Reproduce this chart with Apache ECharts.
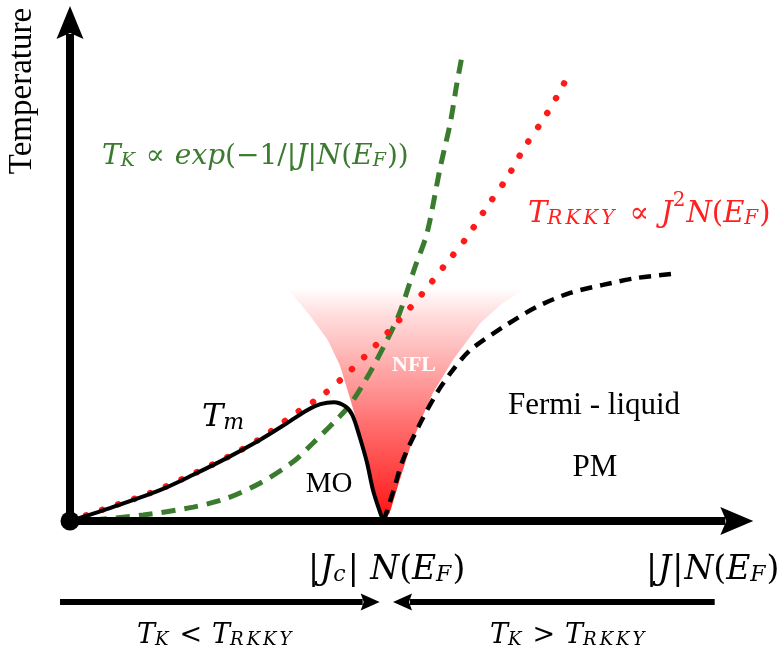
<!DOCTYPE html>
<html><head><meta charset="utf-8">
<script src="https://cdn.jsdelivr.net/npm/echarts@6/dist/echarts.min.js"></script>
<style>html,body{margin:0;padding:0;background:#fff}#c{width:782px;height:655px}</style>
</head><body><div id="c"></div>
<script>
// ---- data (x: |J|N(E_F) arbitrary units 0..100, y: temperature arbitrary units 0..100) ----
const tKondo = [[0,0],[3.5,0.2],[11.0,1.2],[18.5,2.8],[23.6,4.6],[28.5,7.6],[33.5,11.9],[36.5,15.7],[39.5,19.7],[42.0,23.3],[45.0,29.8],[47.6,36.4],[49.5,41.9],[51.8,51.1],[53.6,57.9],[55.6,71.2],[57.1,80.1],[58.1,88.1],[58.9,93.8]];
const tRKKY = [[0,0],[6.0,2.8],[12.0,5.6],[17.6,8.9],[24.0,13.1],[28.5,16.5],[33.5,21.3],[38.0,25.4],[41.5,29.5],[45.8,35.2],[49.4,40.4],[53.0,45.9],[56.3,51.5],[59.6,57.1],[62.6,63.2],[65.6,69.0],[68.3,75.3],[71.3,81.3],[73.9,87.3],[75.1,90.7]];
const tMagnetic = [[0,0],[6.0,2.6],[13.5,6.2],[18.5,9.3],[23.6,12.7],[28.5,16.3],[32.6,19.7],[35.6,22.3],[37.6,23.5],[39.6,23.9],[41.3,23.1],[42.4,21.3],[43.5,16.9],[44.6,11.7],[45.5,6.2],[46.6,1.6],[47.1,0]];
const tFermiLiquid = [[47.1,0],[48.5,5.8],[50.0,12.3],[52.6,19.7],[55.1,25.8],[57.5,30.4],[60.1,34.4],[65.0,39.0],[70.1,43.1],[75.1,45.9],[80.0,47.5],[85.1,48.9],[90.4,49.7]];
const nflBoundary = [[32.6,46.9],[36.0,41.4],[38.7,36.4],[40.5,31.4],[42.0,24.9],[43.2,19.3],[44.4,12.9],[45.6,6.8],[47.1,0],[48.0,1.6],[49.5,8.2],[51.1,14.9],[52.7,20.3],[54.5,25.8],[57.5,32.4],[61.6,39.8],[65.0,43.9],[68.6,46.9]];
const origin = [[0,0]];
const xAxisArrow = [[0, 0, 102.6, 0]];
const yAxisArrow = [[0, 0, 0, 103.6]];
const regimeArrows = [[-1.5, -16.3, 46.5, -16.3], [96.8, -16.3, 48.5, -16.3]];
const texts = {
  yName: 'Temperature',
  kondo: '{i|T}{s|K}{r|∝}{i|exp}{n|(−1/|}{i|J}{n||}{i|N}{n|(}{i|E}{s|F}{n|))}',
  rkky: '{i|T}{k|R}{k|K}{k|K}{k|Y}{r|∝}{i|J}{p|2}{i|N}{n|(}{i|E}{s|F}{n|)}',
  tm: '{i|T}{s|m}',
  mo: 'MO', nfl: 'NFL', fl: 'Fermi - liquid', pm: 'PM',
  jc: '{b||}{i|J}{s|c}{b||}{n| }{i|N}{n|(}{i|E}{s|F}{n|)}',
  jx: '{b||}{i|J}{b||}{i|N}{n|(}{i|E}{s|F}{n|)}',
  less: '{i|T}{s|K}{r|<}{i|T}{k|R}{k|K}{k|K}{k|Y}',
  more: '{i|T}{s|K}{r|>}{i|T}{k|R}{k|K}{k|K}{k|Y}'
};

const SERIF = '"Liberation Serif", "DejaVu Serif", serif';
const MATH = '"DejaVu Serif", serif';
function mathRich(S, color, relPad) {
  const s = Math.round(S * 0.68), L = Math.round(S * 1.43);
  const base = {fontFamily: MATH, fill: color, verticalAlign: 'bottom'};
  return {
    i: Object.assign({}, base, {fontStyle: 'italic', fontSize: S, lineHeight: L}),
    n: Object.assign({}, base, {fontSize: S, lineHeight: L}),
    b: Object.assign({}, base, {fontSize: S, lineHeight: L, padding: [0, 1, 0, 1]}),
    r: Object.assign({}, base, {fontSize: S, lineHeight: L, padding: [0, relPad, 0, relPad]}),
    s: Object.assign({}, base, {fontStyle: 'italic', fontSize: s, lineHeight: s, padding: [0, 1, 0, 0]}),
    k: Object.assign({}, base, {fontStyle: 'italic', fontSize: s, lineHeight: s, padding: [0, 3, 0, 0]}),
    p: Object.assign({}, base, {fontSize: s, lineHeight: s, verticalAlign: 'top', padding: [Math.round(S * 0.12), 1, 0, 0]})
  };
}
function mathText(x, y, txt, S, color, relPad) {
  return {type: 'text', x: x, y: y, z: 100, silent: true,
    style: {text: txt, rich: mathRich(S, color, relPad || 0), align: 'left', verticalAlign: 'middle'}};
}
function plainText(x, y, txt, S, color, weight) {
  return {type: 'text', x: x, y: y, z: 100, silent: true,
    style: {text: txt, fontFamily: SERIF, fontSize: S, fontWeight: weight || 'normal', fill: color, align: 'center', verticalAlign: 'middle'}};
}
// arrow drawn through the cartesian scale: [x1, y1, x2(tip), y2(tip)]
function arrowSeries(name, data, width, headLen, headWidth, notch) {
  return {type: 'custom', name: name, z: 8, silent: true, clip: false, data: data,
    encode: {x: [0, 2], y: [1, 3]},
    renderItem: function (params, api) {
      const p1 = api.coord([api.value(0), api.value(1)]);
      const p2 = api.coord([api.value(2), api.value(3)]);
      const dx = p2[0] - p1[0], dy = p2[1] - p1[1];
      const len = Math.sqrt(dx * dx + dy * dy);
      const ux = dx / len, uy = dy / len, px = -uy, py = ux;
      const bx = p2[0] - ux * headLen, by = p2[1] - uy * headLen;
      const nx = p2[0] - ux * (headLen - notch), ny = p2[1] - uy * (headLen - notch);
      const hw = headWidth / 2;
      return {type: 'group', children: [
        {type: 'line', shape: {x1: p1[0], y1: p1[1], x2: nx - ux * 1, y2: ny - uy * 1},
          style: {stroke: '#000', lineWidth: width, lineCap: 'butt'}},
        {type: 'polygon', shape: {points: [[p2[0], p2[1]], [bx + px * hw, by + py * hw], [nx, ny], [bx - px * hw, by - py * hw]]},
          style: {fill: '#000'}}
      ]};
    }};
}

const GREEN = '#3b7b2f', RED = '#ff1a1a';
const chart = echarts.init(document.getElementById('c'));
chart.setOption({
  animation: false,
  backgroundColor: '#fff',
  grid: {left: 70, right: 46, top: 24, bottom: 134, containLabel: false},
  xAxis: {type: 'value', min: 0, max: 100,
    axisLine: {show: false}, axisTick: {show: false}, axisLabel: {show: false}, splitLine: {show: false}},
  yAxis: {type: 'value', min: 0, max: 100,
    axisLine: {show: false}, axisTick: {show: false}, axisLabel: {show: false}, splitLine: {show: false}},
  series: [
    {type: 'custom', name: 'NFL', z: 1, silent: true, data: nflBoundary,
      renderItem: function (params, api) {
        if (params.dataIndex !== 0) return null;
        const pts = nflBoundary.map(function (p) { return api.coord(p); });
        return {type: 'polygon', shape: {points: pts},
          style: {fill: new echarts.graphic.LinearGradient(0, 0, 0, 1, [
            {offset: 0, color: 'rgba(255,70,70,0)'},
            {offset: 0.12, color: 'rgba(255,80,80,0.2)'},
            {offset: 0.35, color: 'rgba(255,70,70,0.48)'},
            {offset: 0.6, color: 'rgba(255,50,50,0.72)'},
            {offset: 0.85, color: 'rgba(255,30,30,0.9)'},
            {offset: 1, color: 'rgba(255,15,15,1)'}
          ])}};
      }},
    {type: 'line', name: 'T_K', z: 3, data: tKondo, showSymbol: false, smooth: 0.3, silent: true,
      lineStyle: {color: GREEN, width: 5, type: [14, 9]}},
    {type: 'line', name: 'T_RKKY', z: 4, data: tRKKY, showSymbol: false, smooth: 0.3, silent: true,
      lineStyle: {color: RED, width: 6.5, type: [0.01, 17], cap: 'round'}},
    {type: 'line', name: 'T_m', z: 5, data: tMagnetic, showSymbol: false, smooth: 0.3, silent: true,
      lineStyle: {color: '#000', width: 4}},
    {type: 'line', name: 'FL', z: 5, data: tFermiLiquid, showSymbol: false, smooth: 0.3, silent: true,
      lineStyle: {color: '#000', width: 4.5, type: [12, 8]}},
    arrowSeries('xAxis', xAxisArrow, 8, 33, 28, 6),
    arrowSeries('yAxis', yAxisArrow, 8, 33, 27, 6),
    arrowSeries('regimes', regimeArrows, 6, 19, 17, 3),
    {type: 'scatter', name: 'origin', z: 9, data: origin, symbolSize: 19, clip: false, silent: true,
      itemStyle: {color: '#000', opacity: 1}}
  ],
  graphic: [
    {type: 'text', x: 22, y: 91, rotation: Math.PI / 2, z: 100, silent: true,
      style: {text: texts.yName, fontFamily: SERIF, fontSize: 33, fill: '#000', align: 'center', verticalAlign: 'middle'}},
    mathText(102, 151, texts.kondo, 28, GREEN, 10),
    mathText(528, 208, texts.rkky, 29, '#ff2020', 12),
    mathText(202, 411, texts.tm, 32, '#000', 0),
    plainText(329, 484, texts.mo, 29, '#000'),
    plainText(414, 365, texts.nfl, 22, '#fff', 'bold'),
    plainText(594, 406, texts.fl, 31, '#000'),
    plainText(595, 468, texts.pm, 31, '#000'),
    mathText(307, 563, texts.jc, 33, '#000', 0),
    mathText(645, 563, texts.jx, 33, '#000', 0),
    mathText(137, 630, texts.less, 27, '#000', 10),
    mathText(490, 630, texts.more, 27, '#000', 10)
  ]
});
</script>
</body></html>
